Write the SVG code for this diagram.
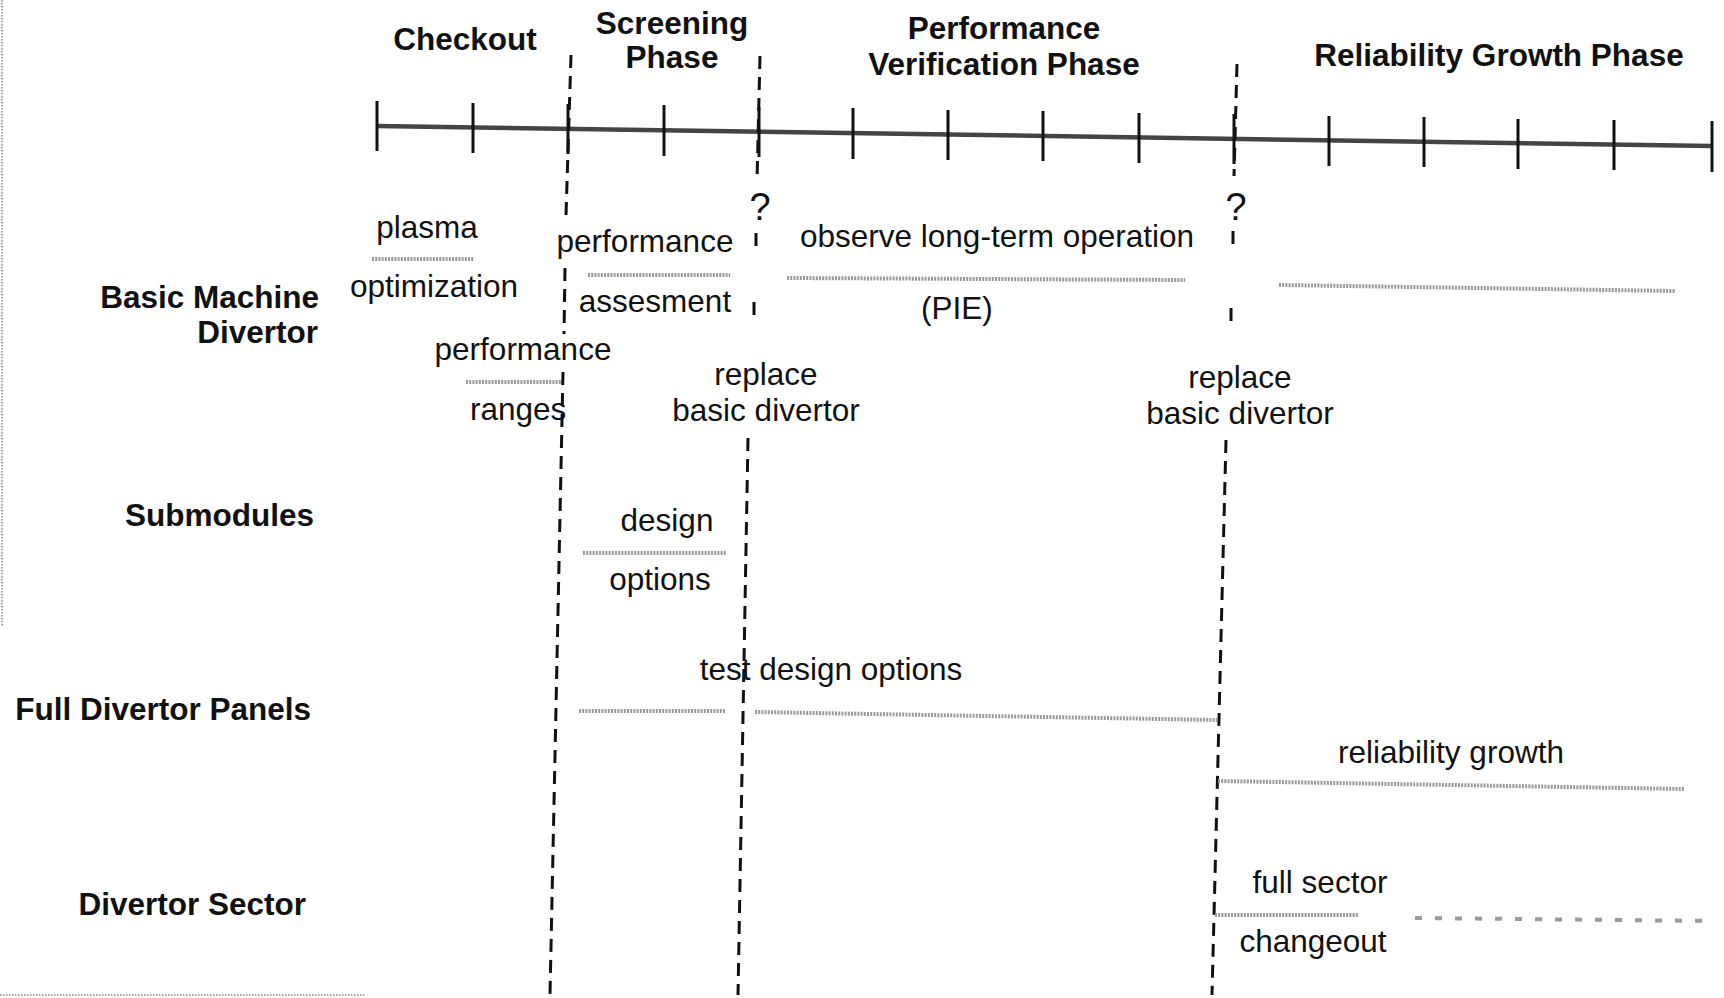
<svg xmlns="http://www.w3.org/2000/svg" width="1724" height="998" viewBox="0 0 1724 998">
<style>
.bg{fill:#fff}
.h{font-family:"Liberation Sans",Arial,sans-serif;font-weight:bold;font-size:31.5px;fill:#111}
.t{font-family:"Liberation Sans",Arial,sans-serif;font-size:31.5px;fill:#111}
.q{font-family:"Liberation Sans",Arial,sans-serif;font-size:38px;fill:#111}
.axis{stroke:#444;stroke-width:4.5;fill:none}
.tick{stroke:#111;stroke-width:3;fill:none}
.dash{stroke:#111;stroke-width:3;stroke-dasharray:13 8;fill:none}
.dot{stroke:#9a9a9a;stroke-width:4;stroke-dasharray:2 1.2;fill:none}
.sparse{stroke:#9a9a9a;stroke-width:4;stroke-dasharray:7 13;fill:none}
.frame{stroke:#888;stroke-width:1.5;stroke-dasharray:1.5 1.5;fill:none}
</style>
<rect class="bg" x="0" y="0" width="1724" height="998"/>
<g id="frame">
<line class="frame" x1="2" y1="0" x2="2" y2="627"/>
<line class="frame" x1="0" y1="995" x2="365" y2="995"/>
</g>
<g id="timeline">
<line class="axis" x1="377" y1="126" x2="1712" y2="146"/>
<g class="tick">
<line x1="377" y1="101" x2="377" y2="151"/>
<line x1="473" y1="103" x2="473" y2="153"/>
<line x1="568" y1="104" x2="568" y2="154"/>
<line x1="664" y1="105" x2="664" y2="156"/>
<line x1="759" y1="107" x2="759" y2="157"/>
<line x1="853" y1="108" x2="853" y2="159"/>
<line x1="948" y1="110" x2="948" y2="160"/>
<line x1="1043" y1="111" x2="1043" y2="161"/>
<line x1="1139" y1="113" x2="1139" y2="163"/>
<line x1="1234" y1="114" x2="1234" y2="164"/>
<line x1="1329" y1="116" x2="1329" y2="166"/>
<line x1="1424" y1="117" x2="1424" y2="167"/>
<line x1="1518" y1="119" x2="1518" y2="169"/>
<line x1="1614" y1="120" x2="1614" y2="170"/>
<line x1="1712" y1="121" x2="1712" y2="172"/>
</g>
</g>
<g id="phases">
<text class="h" x="465" y="50" text-anchor="middle">Checkout</text>
<text class="h" x="672" y="34" text-anchor="middle">Screening</text>
<text class="h" x="672" y="68" text-anchor="middle">Phase</text>
<text class="h" x="1004" y="39" text-anchor="middle">Performance</text>
<text class="h" x="1004" y="75" text-anchor="middle">Verification Phase</text>
<text class="h" x="1499" y="66" text-anchor="middle">Reliability Growth Phase</text>
</g>
<g id="rows">
<g id="row-basic"><text class="h" x="319" y="308" text-anchor="end">Basic Machine</text><text class="h" x="318" y="343" text-anchor="end">Divertor</text></g>
<g id="row-submodules"><text class="h" x="314" y="526" text-anchor="end">Submodules</text></g>
<g id="row-panels"><text class="h" x="311" y="720" text-anchor="end">Full Divertor Panels</text></g>
<g id="row-sector"><text class="h" x="306" y="915" text-anchor="end">Divertor Sector</text></g>
</g>
<g id="connectors">
<path class="dash" d="M571 55 L566 215 M565 268 L564 334 M563 372 L550 995"/>
<path class="dash" d="M760 56 L757 181 M756 233 L756 246 M754 302 L754 318 M748 438 L738 995"/>
<path class="dash" d="M1237 64 L1234 176 M1233 231 L1233 252 M1231 308 L1231 322 M1226 440 L1212 995"/>
<path class="dot" d="M372 259 L474 259"/>
<path class="dot" d="M466 382 L562 382"/>
<path class="dot" d="M588 275 L730 275"/>
<path class="dot" d="M787 278 L1185 280"/>
<path class="dot" d="M1279 285 L1675 291"/>
<path class="dot" d="M583 553 L727 553"/>
<path class="dot" d="M579 711 L725 711"/>
<path class="dot" d="M755 712 L1218 720"/>
<path class="dot" d="M1218 781 L1684 789"/>
<path class="dot" d="M1215 915 L1359 915"/>
<path class="sparse" d="M1415 918 L1715 921"/>
</g>
<g id="labels">
<text class="t" x="427" y="238" text-anchor="middle">plasma</text>
<text class="t" x="434" y="297" text-anchor="middle">optimization</text>
<text class="t" x="523" y="360" text-anchor="middle">performance</text>
<text class="t" x="470" y="420">ranges</text>
<text class="t" x="645" y="252" text-anchor="middle">performance</text>
<text class="t" x="655" y="312" text-anchor="middle">assesment</text>
<text class="q" x="760" y="220" text-anchor="middle">?</text>
<text class="q" x="1236" y="220" text-anchor="middle">?</text>
<text class="t" x="997" y="247" text-anchor="middle">observe long-term operation</text>
<text class="t" x="957" y="319" text-anchor="middle">(PIE)</text>
<text class="t" x="766" y="385" text-anchor="middle">replace</text>
<text class="t" x="766" y="421" text-anchor="middle">basic divertor</text>
<text class="t" x="1240" y="388" text-anchor="middle">replace</text>
<text class="t" x="1240" y="424" text-anchor="middle">basic divertor</text>
<text class="t" x="667" y="531" text-anchor="middle">design</text>
<text class="t" x="660" y="590" text-anchor="middle">options</text>
<text class="t" x="831" y="680" text-anchor="middle">test design options</text>
<text class="t" x="1451" y="763" text-anchor="middle">reliability growth</text>
<text class="t" x="1320" y="893" text-anchor="middle">full sector</text>
<text class="t" x="1313" y="952" text-anchor="middle">changeout</text>
</g>
</svg>
